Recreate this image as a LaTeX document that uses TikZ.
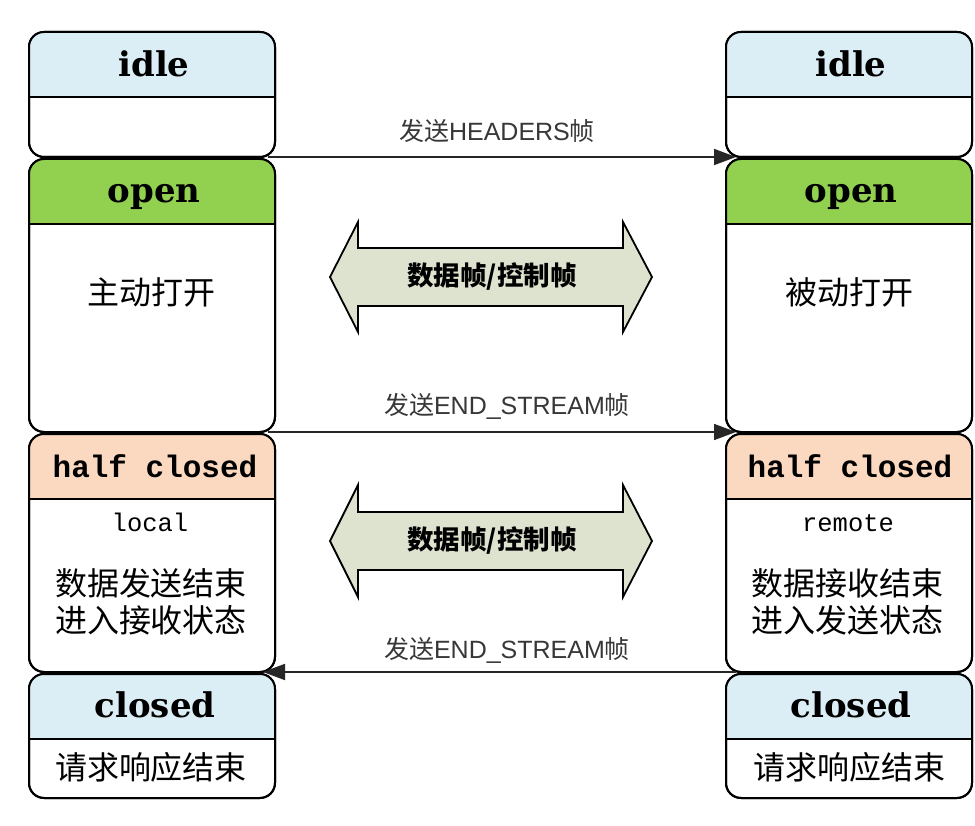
\documentclass[tikz,border=0pt]{standalone}
\usepackage{fontspec}
\usetikzlibrary{arrows.meta}
\newfontfamily\cjk{Noto Sans CJK SC}
\newfontfamily\hdrfont{DejaVu Serif}
\newfontfamily\monof{Liberation Mono}
\newfontfamily\lsans{Liberation Sans}
\definecolor{idlec}{RGB}{220,238,245}
\definecolor{openc}{RGB}{146,208,80}
\definecolor{halfc}{RGB}{250,217,192}
\definecolor{arrc}{RGB}{222,227,207}
\definecolor{lblc}{RGB}{55,55,55}
\tikzset{
  stnode/.style={rectangle, draw=black, line width=2pt, fill=white, rounded corners=15pt,
    minimum width=246pt, inner sep=0pt, outer sep=0pt},
  hdr/.style={anchor=base, inner sep=0pt, font=\hdrfont\bfseries\fontsize{34}{38}\selectfont},
  hdrmono/.style={anchor=base, inner sep=0pt, font=\monof\bfseries\fontsize{31}{36}\selectfont},
  body/.style={inner sep=0pt, align=center, font=\cjk\fontsize{32}{37}\selectfont},
  subl/.style={anchor=base, inner sep=0pt, font=\monof\fontsize{25.5}{28}\selectfont},
  lbl/.style={inner sep=0pt, text=lblc, font=\fontsize{25}{28}\selectfont},
  conn/.style={line width=1.8pt, draw=black!85, -{Triangle[length=22pt,width=16pt]}},
  dbl/.style={line width=1.8pt, draw=black, fill=arrc, line join=miter},
  dbllbl/.style={inner sep=0pt, font=\cjk\bfseries\fontsize{26.5}{30}\selectfont},
}
\newcommand\stbox[5]{%
  \node[stnode, minimum height={#4-#3}] (#1) at (#2,{(#3+#4)/2}) {};
  \begin{scope}
    \clip (#1.north west) rectangle ([yshift=-65pt]#1.north east);
    \fill[#5, rounded corners=15pt] (#1.north west) rectangle (#1.south east);
  \end{scope}
  \draw[line width=2pt] ([yshift=-65pt]#1.north west) -- ([yshift=-65pt]#1.north east);
  \draw[line width=2pt, rounded corners=15pt] (#1.north west) rectangle (#1.south east);
}
\begin{document}
\begin{tikzpicture}[x=1pt,y=-1pt]
\useasboundingbox (0,0) rectangle (975,826);
\fill[white] (0,0) rectangle (975,826);
% left column
\stbox{lidle}{152}{32}{157}{idlec}
\stbox{lopen}{152}{159}{432}{openc}
\stbox{lhalf}{152}{434}{672}{halfc}
\stbox{lclosed}{152}{674}{798}{idlec}
% right column
\stbox{ridle}{849}{32}{157}{idlec}
\stbox{ropen}{849}{159}{432}{openc}
\stbox{rhalf}{849}{434}{672}{halfc}
\stbox{rclosed}{849}{674}{798}{idlec}
% headers
\node[hdr] (lidleh) at (154,77) {idle};
\node[hdr] (ridleh) at (851,77) {idle};
\node[hdr] (lopenh) at (154,203) {open};
\node[hdr] (ropenh) at (851,203) {open};
\node[hdrmono] (lhalfh) at (155,477) {half closed};
\node[hdrmono] (rhalfh) at (850,477) {half closed};
\node[hdr] (lclosedh) at (155,717) {closed};
\node[hdr] (rclosedh) at (851,717) {closed};
% bodies
\node[body] (lopenb) at (151,292) {主动打开};
\node[body] (ropenb) at (849,292) {被动打开};
\node[subl] (lsub) at (150,531) {local};
\node[subl] (rsub) at (848,531) {remote};
\node[body] (lhalfb) at (151,601.5) {数据发送结束\\进入接收状态};
\node[body] (rhalfb) at (847,601.5) {数据接收结束\\进入发送状态};
\node[body] (lclosedb) at (151,767) {请求响应结束};
\node[body] (rclosedb) at (849,767) {请求响应结束};
% connectors
\coordinate (c1s) at ([xshift=-7pt]lidle.south east);
\coordinate (c1e) at ([xshift=10pt]ridle.south west);
\coordinate (c2s) at ([xshift=-7pt]lopen.south east);
\coordinate (c2e) at ([xshift=10pt]ropen.south west);
\coordinate (c3s) at ([xshift=10pt]rhalf.south west);
\coordinate (c3e) at ([xshift=-12pt]lhalf.south east);
\draw[conn] (c1s) -- (c1e);
\draw[conn] (c2s) -- (c2e);
\draw[conn] (c3s) -- (c3e);
\node[lbl] (l1) at (497,131) {{\cjk 发送}{\lsans HEADERS}{\cjk 帧}};
\node[lbl] (l2) at (507,406) {{\cjk 发送}{\lsans END\_STREAM}{\cjk 帧}};
\node[lbl] (l3) at (507,650) {{\cjk 发送}{\lsans END\_STREAM}{\cjk 帧}};
% double arrows
\draw[dbl] (330,277) -- (358,222) -- (358,248) -- (623,248) -- (623,222) -- (652,277) -- (623,332) -- (623,306) -- (358,306) -- (358,332) -- cycle;
\node[dbllbl] (d1) at (492,277) {数据帧/控制帧};
\draw[dbl] (330,541) -- (358,485) -- (358,512) -- (623,512) -- (623,485) -- (652,541) -- (623,597) -- (623,570) -- (358,570) -- (358,597) -- cycle;
\node[dbllbl] (d2) at (492,541) {数据帧/控制帧};
\end{tikzpicture}
\end{document}
